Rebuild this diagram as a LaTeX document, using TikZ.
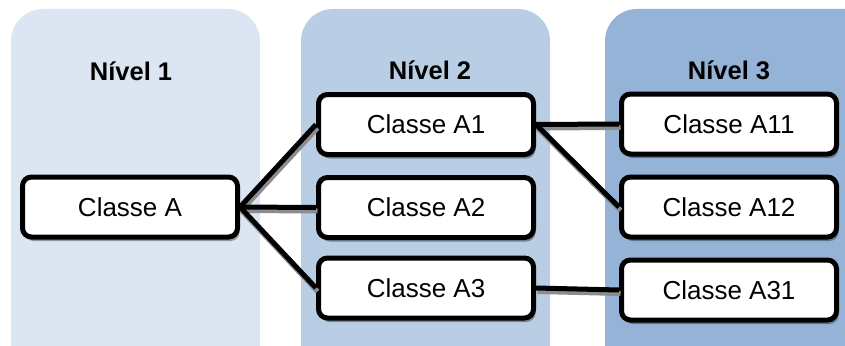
\documentclass[tikz,border=0pt]{standalone}
\usepackage{fontspec}
\setmainfont{Liberation Sans}
\usetikzlibrary{shadows}
\definecolor{pone}{HTML}{DCE6F2}
\definecolor{ptwo}{HTML}{B9CDE5}
\definecolor{pthree}{HTML}{95B3D7}
\tikzset{
  panel/.style={rounded corners=32pt},
  cls/.style={draw=black, fill=white, line width=5pt, rounded corners=9pt,
    minimum width=215pt, minimum height=60pt, inner sep=0pt,
    font=\fontsize{26}{29}\selectfont,
    drop shadow={shadow xshift=2pt, shadow yshift=-4pt, fill=black, opacity=0.35}},
  ttl/.style={font=\fontsize{25.5}{28}\selectfont\bfseries, inner sep=0pt},
  conn/.style={line width=5pt, black},
  connsh/.style={line width=5pt, black!45}
}
\begin{document}
\begin{tikzpicture}[x=1pt,y=-1pt]
\useasboundingbox (0,0) rectangle (845,345);
\clip (0,0) rectangle (845,345);
\fill[pone,panel] (11,9) rectangle (260,380);
\fill[ptwo,panel] (301,9) rectangle (550,380);
\fill[pthree,panel] (605,9) rectangle (900,380);
\node[ttl] (t1) at (131,71) {Nível 1};
\node[ttl] (t2) at (430,70) {Nível 2};
\node[ttl] (t3) at (729,70) {Nível 3};
\node[cls] (A) at (130,207) {Classe A};
\node[cls] (A1) at (426,124.5) {Classe A1};
\node[cls] (A2) at (426,207.5) {Classe A2};
\node[cls] (A3) at (426,288) {Classe A3};
\node[cls] (A11) at (729,124) {Classe A11};
\node[cls] (A12) at (729,207) {Classe A12};
\node[cls] (A31) at (729,290) {Classe A31};
\foreach \s/\t in {A/A1,A/A2,A/A3,A1/A11,A1/A12,A3/A31}{
  \draw[connsh] ([shift={(1.5pt,-3.5pt)}]\s.east) -- ([shift={(1.5pt,-3.5pt)}]\t.west);
}
\foreach \s/\t in {A/A1,A/A2,A/A3,A1/A11,A1/A12,A3/A31}{
  \draw[conn] (\s.east) -- (\t.west);
}
\end{tikzpicture}
\end{document}
